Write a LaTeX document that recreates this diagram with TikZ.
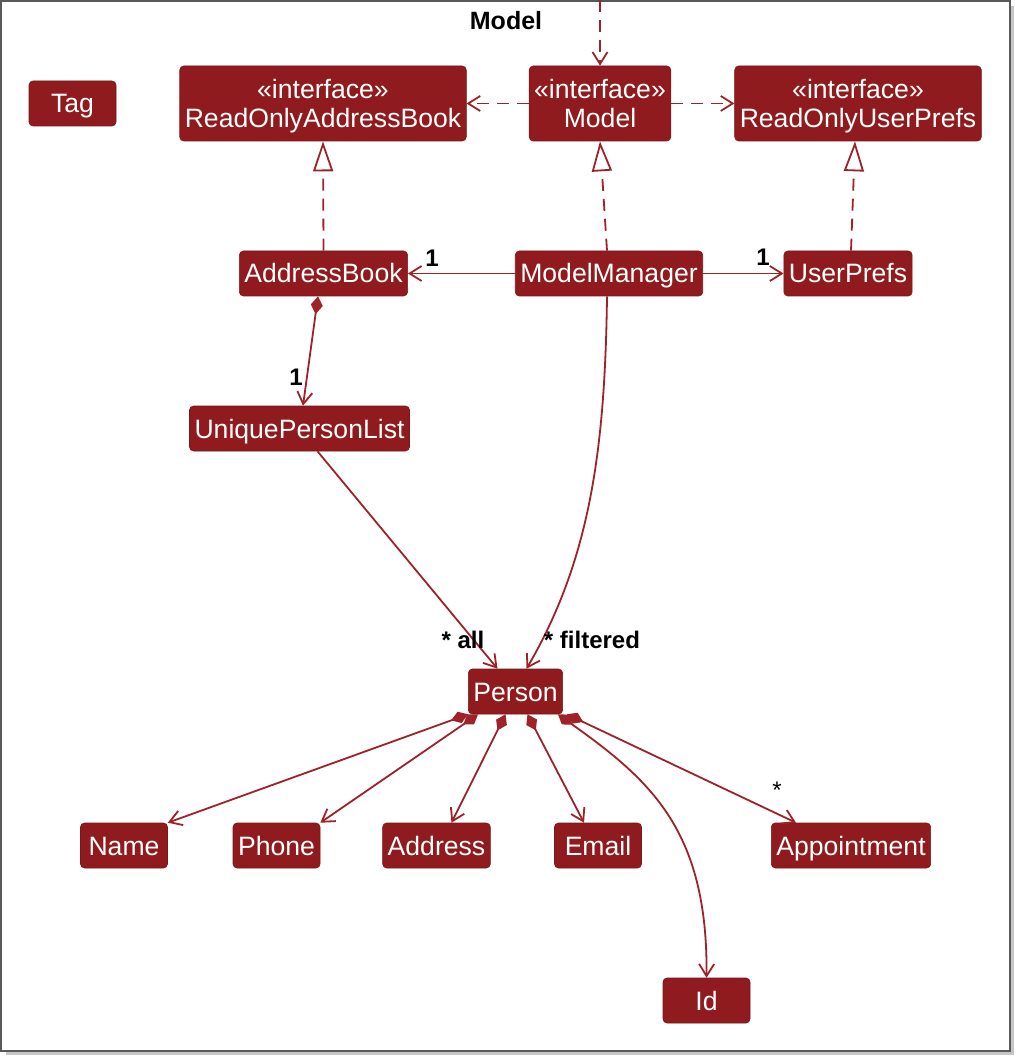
\documentclass[tikz,border=0pt]{standalone}
\usepackage{fontspec}
\setmainfont{Liberation Sans}
\usetikzlibrary{arrows.meta}
\definecolor{umlred}{RGB}{143,27,30}
\definecolor{umlline}{RGB}{158,34,40}
\begin{document}
\begin{tikzpicture}[x=0.5pt,y=-0.5pt,
		umlbox/.style={fill=umlred, draw=umlred!85!black, line width=0.3pt, rounded corners=2pt, text=white,
			font=\fontsize{13.3}{14.4}\selectfont, minimum width=43.5pt,
			inner xsep=2.5pt, inner ysep=0pt, align=center},
		classbox/.style={umlbox, minimum height=22.5pt, text height=9.5pt, text depth=0pt},
		ifacebox/.style={umlbox, minimum height=37.5pt, text depth=0pt},
		assoc/.style={draw=umlline, line width=0.9pt, -{Straight Barb[length=6pt,width=7.5pt]}},
		depend/.style={assoc, dash pattern=on 6pt off 4pt},
		realize/.style={draw=umlline, line width=0.9pt, dash pattern=on 6pt off 4pt, -{Triangle[open,length=15pt,width=10pt,fill=white]}},
		compose/.style={assoc, {Diamond[length=9pt,width=6pt]}-{Straight Barb[length=6pt,width=7.5pt]}},
		mult/.style={font=\bfseries\fontsize{12}{12}\selectfont, text=black, inner sep=0pt}
	]
		% frame
		\useasboundingbox (0,0) rectangle (1018,1058);
		\draw[gray!45, line width=1.5pt] (6,1053) -- (1012,1053) -- (1012,6);
		\draw[gray!70!black, line width=0.6pt, fill=white] (1,1) rectangle (1010,1051);
		\node[mult, font=\bfseries\fontsize{12.5}{12.5}\selectfont] (ttl) at (506,21) {Model};
		\coordinate (entry) at (600,0);
		
		% interfaces
		\node[classbox] (tag) at (72.5,103.5) {Tag};
		\node[ifacebox] (roab) at (323,103.5) {«interface»\\ReadOnlyAddressBook};
		\node[ifacebox] (model) at (600,103.5) {«interface»\\Model};
		\node[ifacebox] (roup) at (858,103.5) {«interface»\\ReadOnlyUserPrefs};
		
		% classes
		\node[classbox] (ab) at (323.5,273.5) {AddressBook};
		\node[classbox] (mm) at (609,273.5) {ModelManager};
		\node[classbox] (up) at (848,273.5) {UserPrefs};
		\node[classbox] (upl) at (299.5,428.5) {UniquePersonList};
		\node[classbox] (person) at (515.5,691.5) {Person};
		
		\node[classbox] (name) at (124,845.5) {Name};
		\node[classbox] (phone) at (276.5,845.5) {Phone};
		\node[classbox] (address) at (436.5,845.5) {Address};
		\node[classbox] (email) at (598,845.5) {Email};
		\node[classbox] (appt) at (851,845.5) {Appointment};
		\node[classbox] (id) at (706.5,1000.5) {Id};
		
		% dependencies and realizations
		\draw[depend] (entry) -- (model.north);
		\draw[depend] (model.west) -- (roab.east);
		\draw[depend] (model.east) -- (roup.west);
		\draw[realize] (ab.north) -- (roab.south);
		\draw[realize] ([xshift=-1pt]mm.north) -- (model.south);
		\draw[realize] ([xshift=1.5pt]up.north) -- ([xshift=-1.5pt]roup.south);
		
		% associations
		\draw[assoc] (mm.west) -- (ab.east);
		\node[mult] (lab) at (432,258) {1};
		\draw[assoc] (mm.east) -- (up.west);
		\node[mult] (lup) at (763,257) {1};
		\draw[compose] ([xshift=-2.75pt]ab.south) -- ([xshift=1.75pt]upl.north);
		\node[mult] (lupl) at (296,377) {1};
		\draw[assoc] ([xshift=9pt]upl.south) -- ([xshift=-9pt]person.north);
		\node[mult] (lall) at (463,640) {* all};
		\draw[assoc] ([xshift=-1pt]mm.south) .. controls (605,450) and (590,560) .. ([xshift=5.5pt]person.north);
		\node[mult] (lfilt) at (592,640) {* filtered};
		
		% person parts
		\draw[compose] (person.south west) -- (name.north east);
		\draw[compose] ([xshift=5pt]person.south west) -- (phone.north east);
		\draw[compose] ([xshift=-5pt]person.south) -- ([xshift=7.5pt]address.north);
		\draw[compose] ([xshift=6pt]person.south) -- ([xshift=-7pt]email.north);
		\draw[compose] ([xshift=2pt]person.south east) -- ([xshift=-27.5pt]appt.north);
		\node[mult, font=\fontsize{12}{12}\selectfont] (lappt) at (777,790) {*};
		\draw[compose] ([xshift=-2.5pt]person.south east) .. controls (650,780) and (708,830) .. (id.north);
\end{tikzpicture}
\end{document}
